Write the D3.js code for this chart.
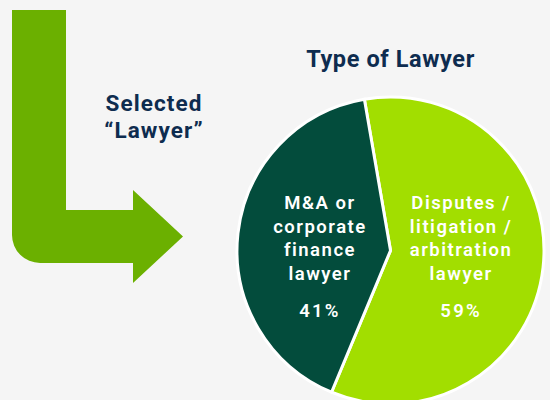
<!DOCTYPE html>
<html>

<head>
    <meta charset="UTF-8">
    <title>Type of Lawyer</title>
    <script src="https://cdn.jsdelivr.net/npm/d3@7"></script>
    <style>
        body { margin: 0; background: #f5f5f5; }
        text { font-family: Roboto, "Open Sans", sans-serif; }
    </style>
</head>

<body>
    <script>
        // data
        const categories = ['Disputes / litigation / arbitration lawyer', 'M&A or corporate finance lawyer'];
        const labelLines = [
            ['Disputes /', 'litigation /', 'arbitration', 'lawyer'],
            ['M&A or', 'corporate', 'finance', 'lawyer']
        ];
        const shares = [59, 41];
        const colors = ['#a2de00', '#034c3c'];

        const width = 550;
        const height = 400;

        const svg = d3.select('body')
            .append('svg')
            .attr('width', width)
            .attr('height', height);

        svg.append('rect')
            .attr('width', width)
            .attr('height', height)
            .attr('fill', '#f5f5f5');

        // the bent arrow on the left
        const arrow = d3.path();
        arrow.moveTo(12, 10);
        arrow.lineTo(66, 10);
        arrow.lineTo(66, 210);
        arrow.lineTo(133, 210);
        arrow.lineTo(133, 190);
        arrow.lineTo(183, 236.5);
        arrow.lineTo(133, 283);
        arrow.lineTo(133, 263);
        arrow.lineTo(40, 263);
        arrow.arcTo(12, 263, 12, 235, 28);
        arrow.closePath();
        svg.append('path')
            .attr('d', arrow.toString())
            .attr('fill', '#6bb000');

        svg.append('text')
            .attr('x', 154)
            .attr('y', 111)
            .attr('text-anchor', 'middle')
            .attr('fill', '#0e2c4f')
            .attr('font-size', 22.5)
            .attr('font-weight', 700)
            .attr('letter-spacing', 1.1)
            .selectAll('tspan')
            .data(['Selected', '\u201CLawyer\u201D'])
            .join('tspan')
            .attr('x', 154)
            .attr('dy', (d, i) => i ? 27 : 0)
            .text(d => d);

        svg.append('text')
            .attr('x', 390.5)
            .attr('y', 66.5)
            .attr('text-anchor', 'middle')
            .attr('fill', '#0e2c4f')
            .attr('font-size', 23.5)
            .attr('font-weight', 700)
            .attr('letter-spacing', 0.6)
            .text('Type of Lawyer');

        // pie
        const cx = 390.5, cy = 250.5, r = 153.5;
        const pie = d3.pie()
            .sort(null)
            .startAngle(-9.8 * Math.PI / 180)
            .endAngle(2 * Math.PI - 9.8 * Math.PI / 180)
            .value(d => d);

        const arc = d3.arc().innerRadius(0).outerRadius(r);
        const labelArc = d3.arc().innerRadius(71).outerRadius(71);

        const g = svg.append('g').attr('transform', `translate(${cx},${cy})`);
        const arcs = pie(shares);

        g.selectAll('path')
            .data(arcs)
            .join('path')
            .attr('d', arc)
            .attr('fill', (d, i) => colors[i])
            .attr('stroke', '#ffffff')
            .attr('stroke-width', 3)
            .attr('stroke-linejoin', 'miter');

        const labels = g.selectAll('g.label')
            .data(arcs)
            .join('g')
            .attr('class', 'label')
            .attr('transform', d => `translate(${labelArc.centroid(d)[0]},0)`);

        labels.append('text')
            .attr('text-anchor', 'middle')
            .attr('fill', '#ffffff')
            .attr('font-size', 18.5)
            .attr('font-weight', 600)
            .attr('letter-spacing', 1.5)
            .selectAll('tspan')
            .data((d, i) => labelLines[i])
            .join('tspan')
            .attr('x', 0)
            .attr('y', (d, i) => 209 - cy + i * 23.5)
            .text(d => d);

        labels.append('text')
            .attr('text-anchor', 'middle')
            .attr('fill', '#ffffff')
            .attr('font-size', 18.5)
            .attr('font-weight', 600)
            .attr('letter-spacing', 2.2)
            .attr('y', 316.5 - cy)
            .text(d => d.data + '%');
    </script>
</body>

</html>
